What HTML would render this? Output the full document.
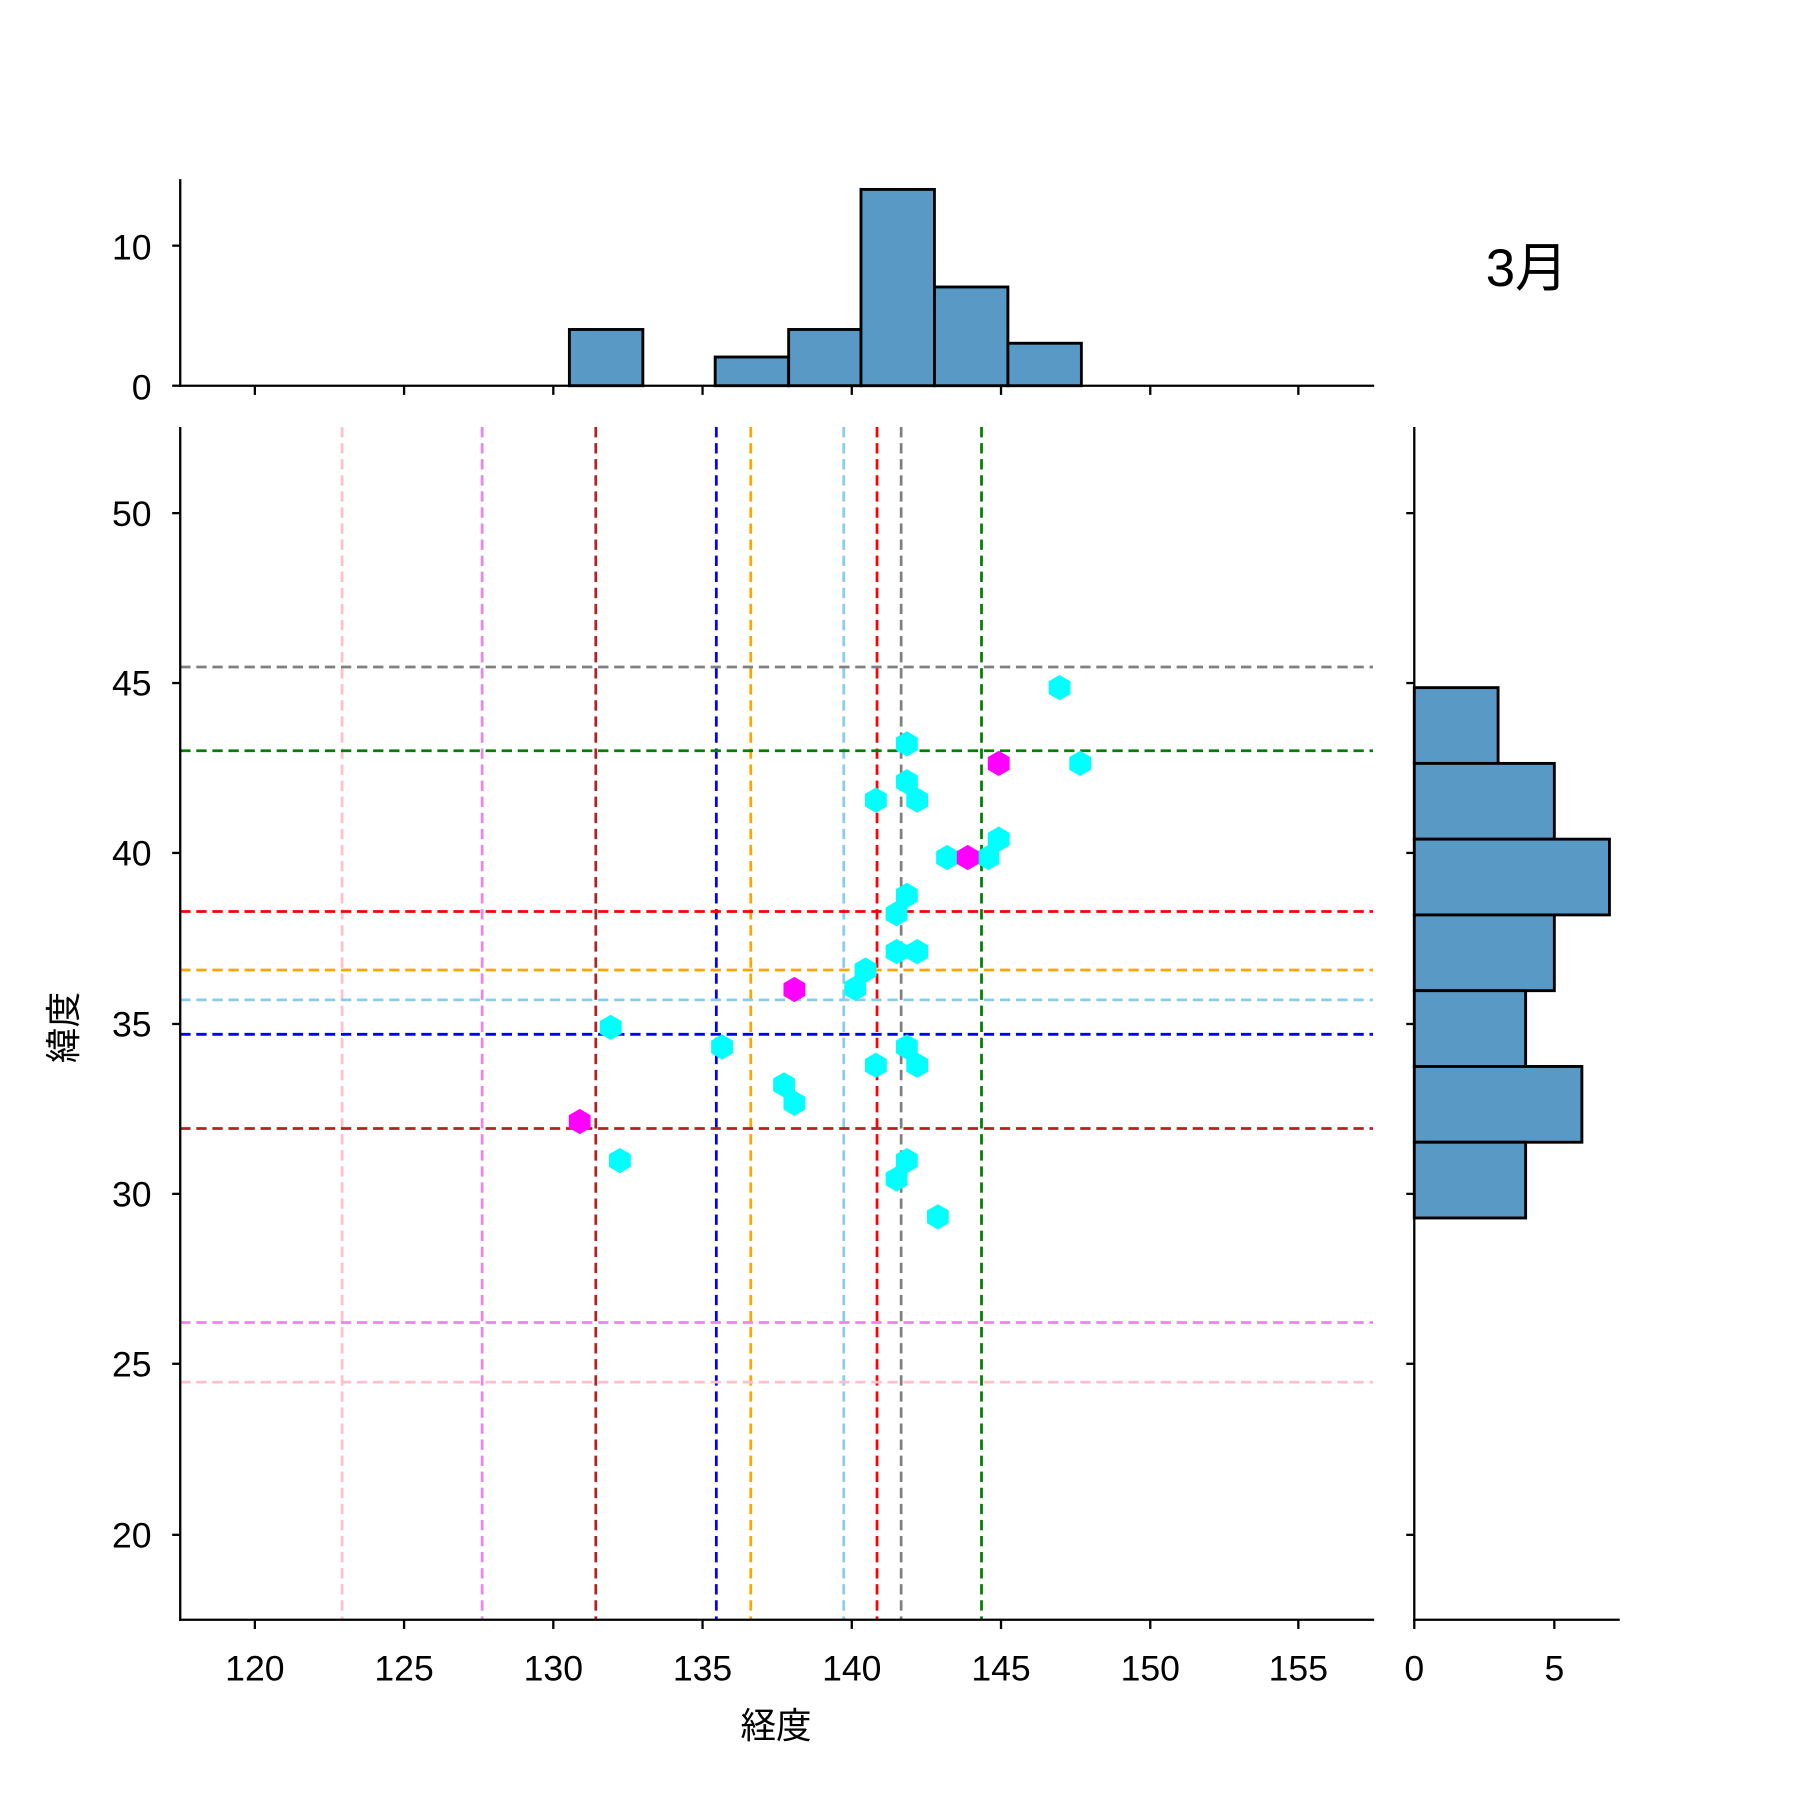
<!DOCTYPE html>
<html><head><meta charset="utf-8"><style>html,body{margin:0;padding:0;background:#fff}svg{display:block}</style></head>
<body>
<svg width="1800" height="1800" viewBox="0 0 1568 1568" xmlns="http://www.w3.org/2000/svg" font-family="Liberation Sans, Noto Sans CJK JP, sans-serif">
<defs><path id="hx" d="M0,-11 L9.5,-5.5 L9.5,5.5 L0,11 L-9.5,5.5 L-9.5,-5.5Z"/></defs>
<rect width="1568" height="1568" fill="#fff"/>
<g fill="#5899c6" stroke="#000" stroke-width="2.5">
<rect x="496" y="287" width="64" height="49"/>
<rect x="623" y="311" width="64" height="25"/>
<rect x="687" y="287" width="63" height="49"/>
<rect x="750" y="165" width="64" height="171"/>
<rect x="814" y="250" width="64" height="86"/>
<rect x="878" y="299" width="64" height="37"/>
</g>
<g stroke="#000" stroke-width="2">
<line x1="157" y1="156" x2="157" y2="337"/><line x1="156" y1="336" x2="1197" y2="336"/>
<line x1="150" y1="336" x2="157" y2="336"/><line x1="150" y1="214" x2="157" y2="214"/>
<line x1="222" y1="336" x2="222" y2="344"/><line x1="352" y1="336" x2="352" y2="344"/><line x1="482" y1="336" x2="482" y2="344"/><line x1="612" y1="336" x2="612" y2="344"/><line x1="742" y1="336" x2="742" y2="344"/><line x1="872" y1="336" x2="872" y2="344"/><line x1="1002" y1="336" x2="1002" y2="344"/><line x1="1131" y1="336" x2="1131" y2="344"/>
</g>
<g font-size="31" text-anchor="end"><text x="132" y="348">0</text><text x="132" y="226">10</text></g>
<text x="1330" y="249" font-size="46" text-anchor="middle">3月</text>
<g fill="#5899c6" stroke="#000" stroke-width="2.5">
<rect x="1232" y="599" width="73" height="66"/>
<rect x="1232" y="665" width="122" height="66"/>
<rect x="1232" y="731" width="170" height="66"/>
<rect x="1232" y="797" width="122" height="66"/>
<rect x="1232" y="863" width="97" height="66"/>
<rect x="1232" y="929" width="146" height="66"/>
<rect x="1232" y="995" width="97" height="66"/>
</g>
<g stroke="#000" stroke-width="2">
<line x1="1232" y1="372" x2="1232" y2="1412"/><line x1="1231" y1="1411" x2="1411" y2="1411"/>
<line x1="1232" y1="1411" x2="1232" y2="1419"/><line x1="1354" y1="1411" x2="1354" y2="1419"/>
<line x1="1225" y1="447" x2="1232" y2="447"/><line x1="1225" y1="595" x2="1232" y2="595"/><line x1="1225" y1="743" x2="1232" y2="743"/><line x1="1225" y1="892" x2="1232" y2="892"/><line x1="1225" y1="1040" x2="1232" y2="1040"/><line x1="1225" y1="1188" x2="1232" y2="1188"/><line x1="1225" y1="1337" x2="1232" y2="1337"/>
</g>
<g font-size="31" text-anchor="middle"><text x="1232" y="1464">0</text><text x="1354" y="1464">5</text></g>
<g stroke-width="2.4" stroke-dasharray="9,5">
<line x1="298" y1="372" x2="298" y2="1411" stroke="pink"/>
<line x1="420" y1="372" x2="420" y2="1411" stroke="violet"/>
<line x1="519" y1="372" x2="519" y2="1411" stroke="#b22222"/>
<line x1="624" y1="372" x2="624" y2="1411" stroke="blue"/>
<line x1="654" y1="372" x2="654" y2="1411" stroke="orange"/>
<line x1="735" y1="372" x2="735" y2="1411" stroke="skyblue"/>
<line x1="764" y1="372" x2="764" y2="1411" stroke="red"/>
<line x1="785" y1="372" x2="785" y2="1411" stroke="gray"/>
<line x1="855" y1="372" x2="855" y2="1411" stroke="green"/>
<line x1="157" y1="581" x2="1196" y2="581" stroke="gray"/>
<line x1="157" y1="654" x2="1196" y2="654" stroke="green"/>
<line x1="157" y1="794" x2="1196" y2="794" stroke="red"/>
<line x1="157" y1="845" x2="1196" y2="845" stroke="orange"/>
<line x1="157" y1="871" x2="1196" y2="871" stroke="skyblue"/>
<line x1="157" y1="901" x2="1196" y2="901" stroke="blue"/>
<line x1="157" y1="983" x2="1196" y2="983" stroke="#b22222"/>
<line x1="157" y1="1152" x2="1196" y2="1152" stroke="violet"/>
<line x1="157" y1="1204" x2="1196" y2="1204" stroke="pink"/>
</g>
<g fill="#00ffff">
<use href="#hx" x="923" y="599"/><use href="#hx" x="790" y="648"/><use href="#hx" x="941" y="665"/><use href="#hx" x="790" y="681"/><use href="#hx" x="763" y="697"/><use href="#hx" x="799" y="697"/><use href="#hx" x="870" y="731"/><use href="#hx" x="825" y="747"/><use href="#hx" x="861" y="747"/><use href="#hx" x="790" y="780"/><use href="#hx" x="781" y="796"/><use href="#hx" x="781" y="829"/><use href="#hx" x="799" y="829"/><use href="#hx" x="754" y="845"/><use href="#hx" x="745" y="861"/><use href="#hx" x="532" y="895"/><use href="#hx" x="629" y="912"/><use href="#hx" x="790" y="912"/><use href="#hx" x="763" y="928"/><use href="#hx" x="799" y="928"/><use href="#hx" x="683" y="945"/><use href="#hx" x="692" y="961"/><use href="#hx" x="540" y="1011"/><use href="#hx" x="790" y="1011"/><use href="#hx" x="781" y="1027"/><use href="#hx" x="817" y="1060"/>
</g>
<g fill="#ff00ff">
<use href="#hx" x="870" y="665"/><use href="#hx" x="843" y="747"/><use href="#hx" x="692" y="862"/><use href="#hx" x="505" y="977"/>
</g>
<g stroke="#000" stroke-width="2">
<line x1="157" y1="372" x2="157" y2="1412"/><line x1="156" y1="1411" x2="1197" y2="1411"/>
<line x1="222" y1="1411" x2="222" y2="1419"/><line x1="352" y1="1411" x2="352" y2="1419"/><line x1="482" y1="1411" x2="482" y2="1419"/><line x1="612" y1="1411" x2="612" y2="1419"/><line x1="742" y1="1411" x2="742" y2="1419"/><line x1="872" y1="1411" x2="872" y2="1419"/><line x1="1002" y1="1411" x2="1002" y2="1419"/><line x1="1131" y1="1411" x2="1131" y2="1419"/>
<line x1="150" y1="447" x2="157" y2="447"/><line x1="150" y1="595" x2="157" y2="595"/><line x1="150" y1="743" x2="157" y2="743"/><line x1="150" y1="892" x2="157" y2="892"/><line x1="150" y1="1040" x2="157" y2="1040"/><line x1="150" y1="1188" x2="157" y2="1188"/><line x1="150" y1="1337" x2="157" y2="1337"/>
</g>
<g font-size="31" text-anchor="middle">
<text x="222" y="1464">120</text><text x="352" y="1464">125</text><text x="482" y="1464">130</text><text x="612" y="1464">135</text><text x="742" y="1464">140</text><text x="872" y="1464">145</text><text x="1002" y="1464">150</text><text x="1131" y="1464">155</text>
</g>
<g font-size="31" text-anchor="end">
<text x="132" y="458">50</text><text x="132" y="606">45</text><text x="132" y="754">40</text><text x="132" y="903">35</text><text x="132" y="1051">30</text><text x="132" y="1199">25</text><text x="132" y="1348">20</text>
</g>
<text x="676" y="1514" font-size="31" text-anchor="middle">経度</text>
<text transform="translate(66,895) rotate(-90)" font-size="31" text-anchor="middle">緯度</text>
</svg>
</body></html>
